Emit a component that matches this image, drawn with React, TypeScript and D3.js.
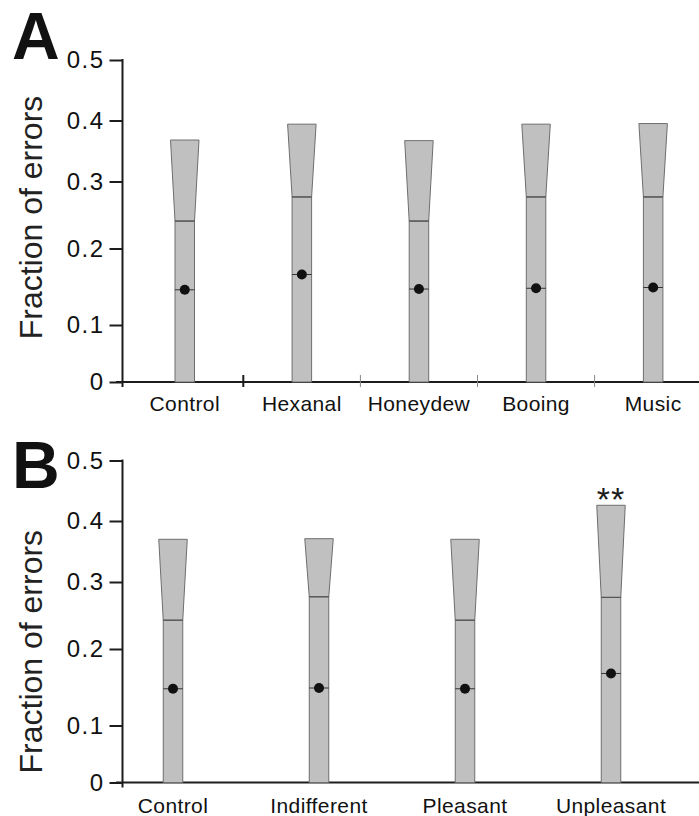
import React from "react";
import * as d3 from "d3";

// panel A: odour / sound conditions
const catsA = ["Control", "Hexanal", "Honeydew", "Booing", "Music"];
const medianA = [0.146, 0.166, 0.147, 0.148, 0.149];
const boxTopA = [0.241, 0.277, 0.241, 0.277, 0.277];
const upperA = [0.368, 0.394, 0.367, 0.394, 0.395];
const starsA = ["", "", "", "", ""];

// panel B: valence conditions
const catsB = ["Control", "Indifferent", "Pleasant", "Unpleasant"];
const medianB = [0.148, 0.149, 0.148, 0.168];
const boxTopB = [0.243, 0.278, 0.243, 0.277];
const upperB = [0.37, 0.371, 0.37, 0.426];
const starsB = ["", "", "", "**"];

const yTicks = [0, 0.1, 0.2, 0.3, 0.4, 0.5];
// the printed axis is not evenly spaced, so the ticks get their own pixel stops
const yStops = [322, 265, 188.5, 121.5, 60.5, 0];

const FONT = "'Liberation Sans', Arial, Helvetica, sans-serif";
const FILL = "#c0c0c0";
const EDGE = "#6e6e6e";
const INK = "#1c1c1c";

type Panel = {
  letter: string;
  cats: string[];
  median: number[];
  boxTop: number[];
  upper: number[];
  stars: string[];
  top: number;
  xRange: [number, number];
  sepTicks: boolean;
  labelCenter: number;
  catBaseline: number;
  letterX: number;
  letterY: number;
};

const panels: Panel[] = [
  {
    letter: "A", cats: catsA, median: medianA, boxTop: boxTopA, upper: upperA, stars: starsA,
    top: 60, xRange: [126.2, 711.7], sepTicks: true,
    labelCenter: 217.5, catBaseline: 411, letterX: 12, letterY: 59,
  },
  {
    letter: "B", cats: catsB, median: medianB, boxTop: boxTopB, upper: upperB, stars: starsB,
    top: 460.5, xRange: [100, 684], sepTicks: false,
    labelCenter: 651.7, catBaseline: 813, letterX: 12, letterY: 488,
  },
];

function drawPanel(svg: any, p: Panel) {
  const axisX = 122.5;
  const y = d3.scaleLinear().domain(yTicks).range(yStops.map(v => v + p.top));
  const x = d3.scaleBand().domain(p.cats).range(p.xRange).padding(0);
  const cx = (c: string) => (x(c) as number) + x.bandwidth() / 2;
  const rectW = 19.5;
  const topW = 28.5;

  const g = svg.append("g");

  // y axis
  const yAxis = d3
    .axisLeft(y)
    .tickValues(yTicks)
    .tickSize(13)
    .tickSizeOuter(0)
    .tickPadding(5)
    .tickFormat((d: any) => (d === 0 ? "0" : d3.format(".1f")(d)));
  const ya = g.append("g").attr("transform", `translate(${axisX},0)`).call(yAxis);
  ya.select(".domain").remove();
  ya.selectAll("line").attr("stroke", INK).attr("stroke-width", 2);
  ya.selectAll("text")
    .style("font-family", FONT)
    .style("font-size", "24px")
    .style("letter-spacing", "1.5px")
    .attr("fill", "#111");

  g.append("line")
    .attr("x1", axisX).attr("x2", axisX)
    .attr("y1", y(0.5) - 1).attr("y2", y(0) + 5)
    .attr("stroke", INK).attr("stroke-width", 2);

  // x axis baseline
  g.append("line")
    .attr("x1", 116).attr("x2", 699)
    .attr("y1", y(0)).attr("y2", y(0))
    .attr("stroke", INK).attr("stroke-width", 2.2);

  if (p.sepTicks) {
    p.cats.slice(1).forEach((c, i) => {
      g.append("line")
        .attr("x1", x(c)).attr("x2", x(c))
        .attr("y1", y(0) - 7).attr("y2", y(0) + 5)
        .attr("stroke", i === 0 ? INK : "#888")
        .attr("stroke-width", i === 0 ? 2 : 1);
    });
  }

  const boxes = g.selectAll(".box").data(p.cats).join("g").attr("class", "box");

  boxes.append("rect")
    .attr("x", (c: string) => cx(c) - rectW / 2)
    .attr("y", (_: any, i: number) => y(p.boxTop[i]))
    .attr("width", rectW)
    .attr("height", (_: any, i: number) => y(0) - y(p.boxTop[i]))
    .attr("fill", FILL)
    .attr("stroke", EDGE)
    .attr("stroke-width", 1);

  boxes.append("path")
    .attr("d", (c: string, i: number) => {
      const m = cx(c);
      const yt = y(p.upper[i]);
      const yb = y(p.boxTop[i]);
      return `M${m - topW / 2},${yt}L${m + topW / 2},${yt}L${m + rectW / 2},${yb}L${m - rectW / 2},${yb}Z`;
    })
    .attr("fill", FILL)
    .attr("stroke", EDGE)
    .attr("stroke-width", 1);

  boxes.append("line")
    .attr("x1", (c: string) => cx(c) - rectW / 2)
    .attr("x2", (c: string) => cx(c) + rectW / 2)
    .attr("y1", (_: any, i: number) => y(p.boxTop[i]))
    .attr("y2", (_: any, i: number) => y(p.boxTop[i]))
    .attr("stroke", "#555")
    .attr("stroke-width", 1.2);

  boxes.append("line")
    .attr("x1", (c: string) => cx(c) - rectW / 2)
    .attr("x2", (c: string) => cx(c) + rectW / 2)
    .attr("y1", (_: any, i: number) => y(p.median[i]))
    .attr("y2", (_: any, i: number) => y(p.median[i]))
    .attr("stroke", "#333")
    .attr("stroke-width", 1);

  boxes.append("circle")
    .attr("cx", (c: string) => cx(c))
    .attr("cy", (_: any, i: number) => y(p.median[i]))
    .attr("r", 5)
    .attr("fill", "#111");

  // significance marks sit just above the top of the funnel
  boxes.append("text")
    .attr("x", (c: string) => cx(c))
    .attr("y", (_: any, i: number) => y(p.upper[i]) + 6)
    .attr("text-anchor", "middle")
    .style("font-family", FONT)
    .style("font-size", "34px")
    .style("letter-spacing", "1px")
    .attr("fill", INK)
    .text((_: any, i: number) => p.stars[i]);

  // category labels
  boxes.append("text")
    .attr("x", (c: string) => cx(c))
    .attr("y", p.catBaseline)
    .attr("text-anchor", "middle")
    .style("font-family", FONT)
    .style("font-size", "21px")
    .style("letter-spacing", "0.4px")
    .attr("fill", "#111")
    .text((c: string) => c);

  g.append("text")
    .attr("transform", `translate(42,${p.labelCenter}) rotate(-90)`)
    .attr("text-anchor", "middle")
    .style("font-family", FONT)
    .style("font-size", "32px")
    .attr("fill", "#222")
    .text("Fraction of errors");

  g.append("text")
    .attr("x", p.letterX)
    .attr("y", p.letterY)
    .style("font-family", FONT)
    .style("font-weight", "bold")
    .style("font-size", "66px")
    .attr("fill", "#111")
    .text(p.letter);
}

export default function App() {
  const svgRef = React.useRef<SVGSVGElement>(null);

  React.useEffect(() => {
    const svg = d3.select(svgRef.current);
    svg.selectAll("*").remove();
    panels.forEach(p => drawPanel(svg, p));
  }, []);

  return (
    <svg
      ref={svgRef}
      width={699}
      height={816}
      style={{ position: "absolute", left: 0, top: 0, background: "#fff" }}
    />
  );
}
